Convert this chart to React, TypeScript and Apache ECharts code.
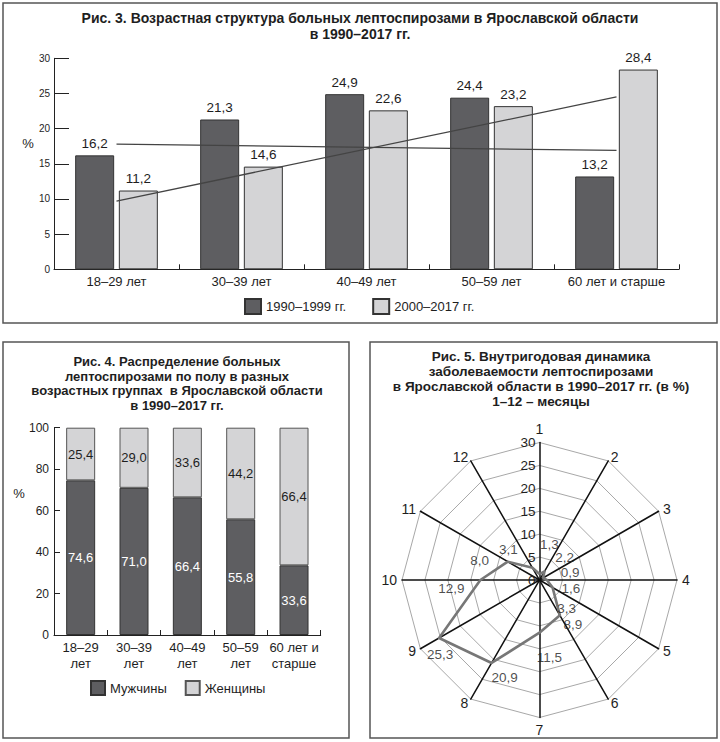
import React, { useEffect, useRef } from 'react';
import * as echarts from 'echarts';

// Рис. 3
const ageGroups = ['18–29 лет', '30–39 лет', '40–49 лет', '50–59 лет', '60 лет и старше'];
const period1Name = '1990–1999 гг.';
const period2Name = '2000–2017 гг.';
const period1 = [16.2, 21.3, 24.9, 24.4, 13.2];
const period2 = [11.2, 14.6, 22.6, 23.2, 28.4];
// trend lines: value at first group, value at last group
const trend1 = [17.8, 16.9];
const trend2 = [9.7, 24.5];

// Рис. 4
const ageGroups2 = ['18–29\nлет', '30–39\nлет', '40–49\nлет', '50–59\nлет', '60 лет и\nстарше'];
const menName = 'Мужчины';
const womenName = 'Женщины';
const men = [74.6, 71.0, 66.4, 55.8, 33.6];
const women = [25.4, 29.0, 33.6, 44.2, 66.4];

// Рис. 5
const months = ['1', '2', '3', '4', '5', '6', '7', '8', '9', '10', '11', '12'];
const monthly = [1.3, 2.2, 0.9, 1.6, 3.3, 8.9, 11.5, 20.9, 25.3, 12.9, 8.0, 3.1];

const title3 = 'Рис. 3. Возрастная структура больных лептоспирозами в Ярославской области\nв 1990–2017 гг.';
const title4 = 'Рис. 4. Распределение больных\nлептоспирозами по полу в разных\nвозрастных группах  в Ярославской области\nв 1990–2017 гг.';
const title5 = 'Рис. 5. Внутригодовая динамика\nзаболеваемости лептоспирозами\nв Ярославской области в 1990–2017 гг. (в %)\n1–12 – месяцы';

const FONT = '"Liberation Sans", Arial, sans-serif';
const DARK = '#5e5e61';
const LIGHT = '#d4d4d6';
const EDGE = '#333';
const TXT = '#1e1e1e';

const fmt = (v: number) => v.toFixed(1).replace('.', ',');

export default function App() {
  const ref = useRef<HTMLDivElement>(null);
  useEffect(() => {
    if (!ref.current) return;
    const chart = echarts.init(ref.current, undefined, { renderer: 'svg' });

    // radar draws counter-clockwise; reorder so months go clockwise from the top
    const order = [0, ...months.map((_, i) => i).slice(1).reverse()];
    const indicator = order.map((i, k) => ({
      name: months[i],
      min: 0,
      max: 30,
      ...(k === 0 ? { axisLabel: { show: true } } : {}),
    }));
    const radarValues = order.map((i) => monthly[i]);
    const labelOffsets = [
      [10, -30], [20, -14], [27, -5], [24, 8], [14, 21], [13, 9],
      [10, 25], [13, 15], [1, 17], [-29, 8], [-28, -1], [-24, -18],
    ];

    const option: any = {
      animation: false,
      backgroundColor: '#fff',
      textStyle: { fontFamily: FONT },
      title: [
        { text: title3, left: 360, top: 10, padding: 0, textAlign: 'center',
          textStyle: { fontSize: 14, fontWeight: 'bold', lineHeight: 16, color: TXT, fontFamily: FONT } },
        { text: title4, left: 177, top: 354, padding: 0, textAlign: 'center',
          textStyle: { fontSize: 13, fontWeight: 'bold', lineHeight: 14.7, color: TXT, fontFamily: FONT } },
        { text: title5, left: 541, top: 349, padding: 0, textAlign: 'center',
          textStyle: { fontSize: 13.5, fontWeight: 'bold', lineHeight: 15, color: TXT, fontFamily: FONT } },
      ],
      legend: [
        { data: [period1Name, period2Name], left: 244, top: 298, padding: 0, itemWidth: 16, itemHeight: 15, itemGap: 26,
          icon: 'rect', textStyle: { fontSize: 13, color: TXT, fontFamily: FONT } },
        { data: [menName, womenName], left: 90, top: 680, padding: 0, itemWidth: 14, itemHeight: 14, itemGap: 18,
          icon: 'rect', textStyle: { fontSize: 13, color: TXT, fontFamily: FONT } },
      ],
      grid: [
        { left: 54, top: 58.3, width: 625, height: 211 },
        { left: 54, top: 427.7, width: 266.7, height: 207.3 },
      ],
      xAxis: [
        { type: 'category', gridIndex: 0, data: ageGroups,
          axisLine: { lineStyle: { color: '#222', width: 1 } },
          axisTick: { show: true, inside: true, length: 5, lineStyle: { color: '#222' } },
          axisLabel: { interval: 0, fontSize: 13, color: TXT, margin: 6, fontFamily: FONT } },
        { type: 'category', gridIndex: 1, data: ageGroups2,
          axisLine: { lineStyle: { color: '#222', width: 1 } },
          axisTick: { show: true, inside: true, length: 5, lineStyle: { color: '#222' } },
          axisLabel: { interval: 0, fontSize: 13, color: TXT, margin: 4, lineHeight: 16, fontFamily: FONT } },
      ],
      yAxis: [
        { type: 'value', gridIndex: 0, min: 0, max: 30, interval: 5,
          axisLine: { show: true, lineStyle: { color: '#222', width: 1 } },
          axisTick: { show: true, inside: true, length: 15, lineStyle: { color: '#222' } },
          axisLabel: { fontSize: 10, color: TXT, margin: 4, fontFamily: FONT },
          splitLine: { show: false } },
        { type: 'value', gridIndex: 1, min: 0, max: 100, interval: 20,
          axisLine: { show: true, lineStyle: { color: '#222', width: 1 } },
          axisTick: { show: true, inside: true, length: 6, lineStyle: { color: '#222' } },
          axisLabel: { fontSize: 12, color: TXT, margin: 5, fontFamily: FONT },
          splitLine: { show: false } },
      ],
      radar: {
        center: [539.5, 580],
        radius: 137.5,
        startAngle: 90,
        shape: 'polygon',
        splitNumber: 6,
        indicator,
        nameGap: 5,
        axisName: { color: TXT, fontSize: 14, fontFamily: FONT },
        axisLine: { lineStyle: { color: '#111', width: 1.5 } },
        axisTick: { show: false },
        axisLabel: { show: false, fontSize: 13.5, color: TXT, margin: 4, fontFamily: FONT },
        splitLine: { lineStyle: { color: '#a8a8a8', width: 1 } },
        splitArea: { show: false },
      },
      polar: { center: [539.5, 580], radius: 137.5 },
      angleAxis: { type: 'value', min: 0, max: 360, startAngle: 90, clockwise: true, show: false },
      radiusAxis: { type: 'value', min: 0, max: 30, show: false },
      series: [
        { type: 'bar', name: period1Name, xAxisIndex: 0, yAxisIndex: 0, data: period1,
          barWidth: 39, barGap: '12%',
          itemStyle: { color: DARK, borderColor: EDGE, borderWidth: 1 },
          label: { show: true, position: 'top', distance: 5, fontSize: 13.5, color: TXT, formatter: (p: any) => fmt(p.value) } },
        { type: 'bar', name: period2Name, xAxisIndex: 0, yAxisIndex: 0, data: period2,
          barWidth: 39, barGap: '12%',
          itemStyle: { color: LIGHT, borderColor: EDGE, borderWidth: 1 },
          label: { show: true, position: 'top', distance: 5, fontSize: 13.5, color: TXT, formatter: (p: any) => fmt(p.value) } },
        { type: 'line', xAxisIndex: 0, yAxisIndex: 0, symbol: 'none', silent: true,
          data: [[0, trend1[0]], [ageGroups.length - 1, trend1[1]]],
          lineStyle: { color: '#444', width: 1.3 }, z: 5 },
        { type: 'line', xAxisIndex: 0, yAxisIndex: 0, symbol: 'none', silent: true,
          data: [[0, trend2[0]], [ageGroups.length - 1, trend2[1]]],
          lineStyle: { color: '#444', width: 1.3 }, z: 5 },
        { type: 'bar', name: menName, xAxisIndex: 1, yAxisIndex: 1, stack: 'sex', data: men,
          barWidth: 29,
          itemStyle: { color: DARK, borderColor: EDGE, borderWidth: 1 },
          label: { show: true, position: 'inside', fontSize: 13, color: '#fff', formatter: (p: any) => fmt(p.value) } },
        { type: 'bar', name: womenName, xAxisIndex: 1, yAxisIndex: 1, stack: 'sex', data: women,
          barWidth: 29,
          itemStyle: { color: LIGHT, borderColor: '#555', borderWidth: 1 },
          label: { show: true, position: 'inside', fontSize: 13, color: TXT, formatter: (p: any) => fmt(p.value) } },
        { type: 'radar', radarIndex: 0, symbol: 'none', silent: true,
          data: [{ value: radarValues }],
          lineStyle: { color: '#777', width: 2.6 }, z: 4 },
        { type: 'scatter', coordinateSystem: 'polar', symbolSize: 0, silent: true,
          data: monthly.map((v, i) => ({ value: [v, i * 30], label: { offset: labelOffsets[i] } })),
          label: { show: true, position: 'inside', fontSize: 13.5, color: TXT, fontFamily: FONT,
            formatter: (p: any) => fmt(p.value[0]) }, z: 6 },
      ],
      graphic: [
        { type: 'rect', shape: { x: 3, y: 3, width: 714, height: 320 }, style: { fill: 'none', stroke: '#555', lineWidth: 1.5 }, silent: true },
        { type: 'rect', shape: { x: 3, y: 342, width: 346, height: 396 }, style: { fill: 'none', stroke: '#555', lineWidth: 1.5 }, silent: true },
        { type: 'rect', shape: { x: 370, y: 342, width: 347, height: 396 }, style: { fill: 'none', stroke: '#555', lineWidth: 1.5 }, silent: true },
        { type: 'text', x: 28, y: 143, style: { text: '%', font: `13px ${FONT}`, fill: TXT, textAlign: 'center', textVerticalAlign: 'middle' }, silent: true },
        { type: 'text', x: 19, y: 493, style: { text: '%', font: `13px ${FONT}`, fill: TXT, textAlign: 'center', textVerticalAlign: 'middle' }, silent: true },
      ],
    };
    chart.setOption(option);
    return () => chart.dispose();
  }, []);
  return <div ref={ref} style={{ position: 'absolute', left: 0, top: 0, width: 720, height: 742 }} />;
}
